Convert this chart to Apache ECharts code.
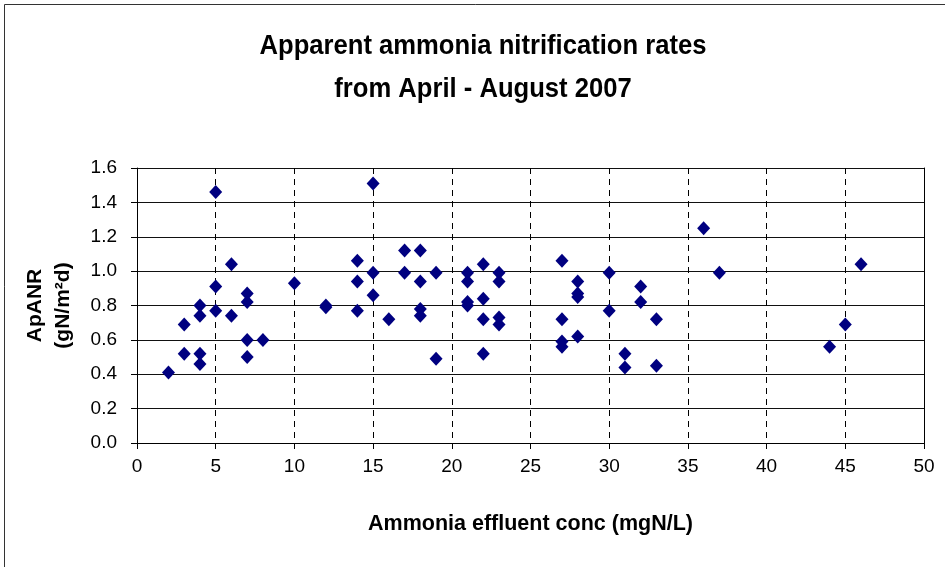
<!DOCTYPE html>
<html>
<head>
<meta charset="utf-8">
<script src="https://cdn.jsdelivr.net/npm/echarts@6/dist/echarts.min.js"></script>
<style>
  html, body { margin: 0; padding: 0; background: #fff; }
  #chart { width: 945px; height: 567px; }
</style>
</head>
<body>
<div id="chart"></div>
<script>
// Ammonia effluent concentration (mgN/L) for each sample
const effluentConc = [
  2, 3, 3, 4, 4, 4, 4, 5, 5, 5,
  6, 6, 7, 7, 7, 7, 8, 10, 12, 12,
  14, 14, 14, 15, 15, 15, 16, 17, 17, 18,
  18, 18, 18, 19, 19, 21, 21, 21, 21, 22,
  22, 22, 22, 23, 23, 23, 23, 27, 27, 27,
  27, 28, 28, 28, 28, 30, 30, 31, 31, 32,
  32, 33, 33, 36, 37, 44, 45, 46
];
// Apparent ammonia nitrification rate (gN/m2d) for each sample
const apanr = [
  0.41, 0.69, 0.52, 0.80, 0.74, 0.52, 0.46, 1.46, 0.91, 0.77,
  1.04, 0.74, 0.87, 0.82, 0.60, 0.50, 0.60, 0.93, 0.80, 0.79,
  1.06, 0.94, 0.77, 1.51, 0.99, 0.86, 0.72, 1.12, 0.99, 1.12,
  0.94, 0.78, 0.74, 0.99, 0.49, 0.99, 0.94, 0.82, 0.80, 1.04,
  0.84, 0.72, 0.52, 0.99, 0.94, 0.73, 0.69, 1.06, 0.72, 0.59,
  0.56, 0.94, 0.87, 0.85, 0.62, 0.99, 0.77, 0.52, 0.44, 0.91,
  0.82, 0.72, 0.45, 1.25, 0.99, 0.56, 0.69, 1.04
];
const xTicks = { min: 0, max: 50, interval: 5 };
const yTicks = { min: 0, max: 1.6, interval: 0.2 };

const titleLines = ['Apparent ammonia nitrification rates', 'from April - August 2007'];
const xName = 'Ammonia effluent conc (mgN/L)';
const yName = 'ApANR\n(gN/m\u00B2d)';

const FONT = "'Liberation Sans', Arial, sans-serif";

const points = effluentConc.map((x, i) => [x, apanr[i]]);

// Title lines, slightly condensed horizontally
const titleGraphics = titleLines.map((line, i) => ({
  type: 'text',
  x: 483,
  y: 46 + i * 43,
  scaleX: 0.915,
  silent: true,
  style: {
    text: line,
    align: 'center',
    verticalAlign: 'middle',
    fontFamily: FONT,
    fontWeight: 'bold',
    fontSize: 28,
    fill: '#000'
  }
}));

const chart = echarts.init(document.getElementById('chart'), null, { renderer: 'canvas' });

chart.setOption({
  backgroundColor: '#ffffff',
  animation: false,
  textStyle: { fontFamily: FONT },
  graphic: [
    {
      // outer chart frame
      type: 'rect',
      shape: { x: 4.5, y: 4.5, width: 1200, height: 1200 },
      style: { fill: 'none', stroke: '#333', lineWidth: 1 },
      silent: true,
      z: -10
    }
  ].concat(titleGraphics),
  grid: {
    left: 137,
    right: 21,
    top: 168,
    bottom: 124,
    containLabel: false
  },
  xAxis: {
    type: 'value',
    min: xTicks.min,
    max: xTicks.max,
    interval: xTicks.interval,
    name: xName,
    nameLocation: 'middle',
    nameGap: 70,
    nameTextStyle: { fontFamily: FONT, fontWeight: 'bold', fontSize: 21.5, color: '#000' },
    axisLine: { show: true, onZero: false, lineStyle: { color: '#000', width: 1 } },
    axisTick: { show: true, length: 6, lineStyle: { color: '#000' } },
    axisLabel: { margin: 14, fontFamily: FONT, fontSize: 19, color: '#000' },
    splitLine: { show: true, lineStyle: { color: '#000', width: 1, type: [6, 5] } }
  },
  yAxis: [
    {
      type: 'value',
      min: yTicks.min,
      max: yTicks.max,
      interval: yTicks.interval,
      name: yName,
      nameLocation: 'middle',
      nameRotate: 90,
      nameGap: 60,
      nameTextStyle: { fontFamily: FONT, fontWeight: 'bold', fontSize: 21, lineHeight: 28, color: '#000' },
      axisLine: { show: true, lineStyle: { color: '#000', width: 1 } },
      axisTick: { show: true, length: 6, lineStyle: { color: '#000' } },
      axisLabel: {
        margin: 20,
        fontFamily: FONT,
        fontSize: 19,
        color: '#000',
        formatter: v => v.toFixed(1)
      },
      splitLine: { show: true, lineStyle: { color: '#111', width: 1 } }
    },
    {
      // right-hand frame of the plot area
      type: 'value',
      position: 'right',
      min: yTicks.min,
      max: yTicks.max,
      interval: yTicks.interval,
      axisLine: { show: true, lineStyle: { color: '#000', width: 1 } },
      axisTick: { show: false },
      axisLabel: { show: false },
      splitLine: { show: false }
    }
  ],
  series: [
    {
      type: 'scatter',
      data: points,
      symbol: 'diamond',
      symbolSize: [13, 14],
      itemStyle: { color: '#000080', opacity: 1 },
      z: 5
    }
  ]
});
</script>
</body>
</html>
